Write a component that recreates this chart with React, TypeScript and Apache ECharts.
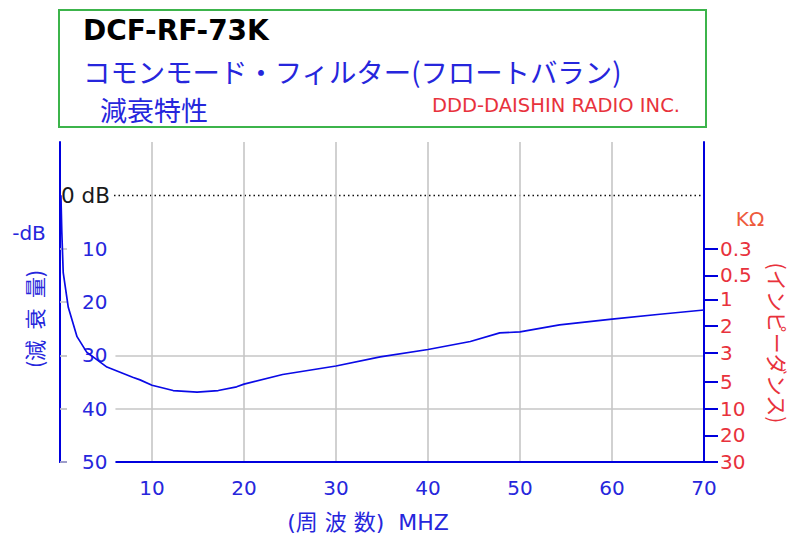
import React, { useEffect, useRef } from "react";
import * as echarts from "echarts";

// ---- data ----
const freqMHz = [0.1, 0.2, 0.35, 0.9, 1.85, 2.9, 5.1, 7.9, 8.7, 10, 12.3, 14.9, 17.2, 19.2, 20, 24.2, 30, 34.8, 40, 44.6, 47.8, 50, 54.3, 60, 65.2, 70];
const attenDb = [0, 7, 14.5, 21, 26.5, 29.4, 32.2, 34.1, 34.6, 35.6, 36.6, 36.9, 36.6, 35.9, 35.4, 33.6, 32.0, 30.3, 28.9, 27.4, 25.8, 25.6, 24.3, 23.2, 22.3, 21.5];
const dbTickLabels = [10, 20, 30, 40, 50];
const impedanceLabels = ["0.3", "0.5", "1", "2", "3", "5", "10", "20", "30"];
const impedanceAtDb = [10, 15, 19.5, 24.5, 29.5, 35, 40, 45, 50];

const BLUE_LINE = "#0000dd";
const BLUE_TEXT = "#2626dc";
const RED = "#e8323c";
const GRID = "#c6c6c6";
const FONT = "'DejaVu Sans', 'Noto Sans CJK JP', sans-serif";
const JP = "'Noto Sans CJK JP', 'DejaVu Sans', sans-serif";
const NB = "\u00a0";
const EN = "\u2002";

export default function App() {
  const ref = useRef<HTMLDivElement>(null);
  useEffect(() => {
    if (!ref.current) return;
    const chart = echarts.init(ref.current, null, { renderer: "svg" });
    const T = "rgba(0,0,0,0)";
    const option: any = {
      animation: false,
      backgroundColor: "#ffffff",
      grid: { left: 60, right: 89, top: 142, bottom: 73, containLabel: false },
      xAxis: [
        {
          type: "value",
          min: 0,
          max: 70,
          interval: 10,
          axisLine: { show: true, onZero: false, lineStyle: { color: BLUE_LINE, width: 2 } },
          axisTick: { show: false },
          axisLabel: {
            color: BLUE_TEXT,
            fontSize: 20,
            fontFamily: FONT,
            margin: 16,
            formatter: (v: number) => (v === 0 ? "" : String(v)),
          },
          splitLine: { show: true, showMinLine: false, showMaxLine: false, lineStyle: { color: GRID, width: 1.6 } },
          name: `(周${NB}波${NB}数)${NB}${NB}MHZ`,
          nameLocation: "middle",
          nameGap: 49,
          nameTextStyle: { color: BLUE_TEXT, fontSize: 22, fontFamily: FONT, padding: [0, 28, 0, 0] },
        },
      ],
      yAxis: [
        {
          type: "value",
          position: "left",
          min: -10,
          max: 50,
          interval: 10,
          inverse: true,
          axisLine: { show: true, onZero: false, lineStyle: { color: BLUE_LINE, width: 2 } },
          axisTick: { show: true, inside: true, length: 7, customValues: dbTickLabels, lineStyle: { color: GRID, width: 1.6 } },
          axisLabel: {
            inside: true,
            customValues: dbTickLabels,
            margin: 7,
            formatter: (v: number) => String(v),
            color: BLUE_TEXT,
            fontSize: 20,
            fontFamily: FONT,
            backgroundColor: "#ffffff",
            padding: [1, 8, 1, 15],
          },
          splitLine: { show: true, lineStyle: { color: [T, T, GRID, GRID, GRID, GRID, T], width: 1.6 } },
        },
        {
          type: "value",
          position: "left",
          min: -10,
          max: 50,
          interval: 10,
          inverse: true,
          axisLine: { show: false, onZero: false },
          axisTick: { show: false },
          axisLabel: {
            inside: true,
            customValues: [0],
            margin: 1,
            formatter: () => "0 dB",
            color: "#1a1a1a",
            fontSize: 21.5,
            fontFamily: FONT,
            backgroundColor: "#ffffff",
            padding: [0, 3, 0, 0],
          },
          splitLine: { show: true, lineStyle: { color: [T, "#111", T, T, T, T, T], width: 1.4, type: [1.5, 3] } },
        },
        {
          type: "value",
          position: "right",
          min: -10,
          max: 50,
          interval: 5,
          inverse: true,
          axisLine: { show: true, onZero: false, lineStyle: { color: BLUE_LINE, width: 2 } },
          axisTick: { show: true, length: 14, customValues: impedanceAtDb, lineStyle: { color: BLUE_LINE, width: 2 } },
          axisLabel: {
            customValues: impedanceAtDb,
            margin: 16,
            formatter: (v: number) => {
              const i = impedanceAtDb.indexOf(v);
              return i >= 0 ? impedanceLabels[i] : "";
            },
            color: RED,
            fontSize: 20,
            fontFamily: FONT,
          },
          splitLine: { show: false },
        },
      ],
      series: [
        {
          type: "line",
          xAxisIndex: 0,
          yAxisIndex: 0,
          data: freqMHz.map((f, i) => [f, attenDb[i]]),
          showSymbol: false,
          smooth: false,
          lineStyle: { color: "#0a0ae6", width: 1.7 },
          z: 3,
        },
      ],
      graphic: [
        {
          type: "rect",
          shape: { x: 59, y: 10, width: 647, height: 117 },
          style: { fill: "none", stroke: "#3cb44b", lineWidth: 2 },
        },
        {
          type: "text",
          x: 83,
          y: 30,
          style: { text: "DCF-RF-73K", fill: "#000", font: `bold 28px ${FONT}`, verticalAlign: "middle" },
        },
        {
          type: "text",
          x: 83,
          y: 71,
          style: { text: "コモンモード・フィルター(フロートバラン)", fill: BLUE_TEXT, font: `27.4px ${JP}`, verticalAlign: "middle" },
        },
        {
          type: "text",
          x: 100,
          y: 109,
          style: { text: "減衰特性", fill: BLUE_TEXT, font: `27px ${JP}`, verticalAlign: "middle" },
        },
        {
          type: "text",
          x: 432,
          y: 105,
          style: { text: "DDD-DAISHIN RADIO INC.", fill: RED, font: `19.5px ${FONT}`, verticalAlign: "middle" },
        },
        {
          type: "text",
          x: 29,
          y: 233,
          style: { text: "-dB", fill: BLUE_TEXT, font: `20px ${FONT}`, align: "center", verticalAlign: "middle" },
        },
        {
          type: "text",
          x: 34,
          y: 319,
          rotation: Math.PI / 2,
          style: { text: `(減${EN}衰${EN}量)`, fill: BLUE_TEXT, font: `21px ${JP}`, align: "center", verticalAlign: "middle" },
        },
        {
          type: "text",
          x: 750,
          y: 219,
          style: { text: "KΩ", fill: "#ee5a3c", font: `20px ${FONT}`, align: "center", verticalAlign: "middle" },
        },
        {
          type: "text",
          x: 778,
          y: 343,
          rotation: -Math.PI / 2,
          style: { text: "(インピーダンス)", fill: RED, font: `21px ${JP}`, align: "center", verticalAlign: "middle" },
        },
      ],
    };
    chart.setOption(option);
    return () => chart.dispose();
  }, []);
  return (
    <div
      ref={ref}
      style={{ position: "fixed", left: 0, top: 0, width: 793, height: 538, background: "#fff" }}
    />
  );
}
